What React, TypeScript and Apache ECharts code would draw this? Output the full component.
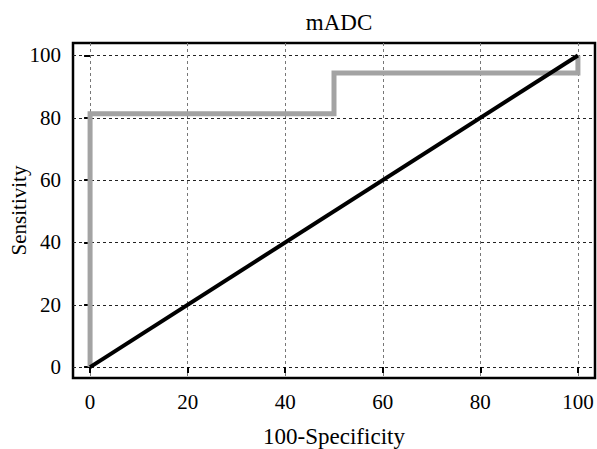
import React, { useEffect, useRef } from "react";
import * as echarts from "echarts";

const tickValues = [0, 20, 40, 60, 80, 100];
const rocCurve: [number, number][] = [
  [0, 0],
  [0, 81.3],
  [50, 81.3],
  [50, 94.4],
  [100, 94.4],
  [100, 100],
];
const diagonal: [number, number][] = [
  [0, 0],
  [100, 100],
];

const FONT = "Liberation Serif";

export default function App() {
  const ref = useRef<HTMLDivElement>(null);
  useEffect(() => {
    if (!ref.current) return;
    const chart = echarts.init(ref.current, undefined, { renderer: "svg" });
    chart.setOption({
      animation: false,
      backgroundColor: "#ffffff",
      title: {
        text: "mADC",
        left: 334,
        textAlign: "center",
        top: 6,
        textStyle: { fontFamily: FONT, fontSize: 23, fontWeight: "normal", color: "#000" },
      },
      grid: {
        left: 73,
        right: 2,
        top: 43,
        bottom: 71,
        containLabel: false,
        outerBoundsMode: "none",
        show: true,
        borderColor: "#000",
        borderWidth: 2.5,
        backgroundColor: "transparent",
      },
      xAxis: {
        type: "value",
        min: -3.5,
        max: 103.5,
        name: "100-Specificity",
        nameLocation: "middle",
        nameMoveOverlap: false,
        nameGap: 47,
        nameTextStyle: { fontFamily: FONT, fontSize: 23, color: "#000" },
        axisLine: { show: false },
        axisTick: {
          show: true,
          inside: false,
          length: 6,
          customValues: tickValues,
          lineStyle: { color: "#000", width: 2 },
        },
        axisLabel: {
          customValues: tickValues,
          fontFamily: FONT,
          fontSize: 21,
          color: "#000",
          margin: 13,
        },
        splitLine: {
          show: true,
          lineStyle: { color: "#777", type: [3, 3], width: 1 },
        },
      },
      yAxis: {
        type: "value",
        min: -3.5,
        max: 104,
        name: "Sensitivity",
        nameLocation: "middle",
        nameMoveOverlap: false,
        nameGap: 44,
        nameTextStyle: { fontFamily: FONT, fontSize: 21, color: "#000" },
        axisLine: { show: false },
        axisTick: {
          show: true,
          inside: false,
          length: 6,
          customValues: tickValues,
          lineStyle: { color: "#000", width: 2 },
        },
        axisLabel: {
          customValues: tickValues,
          fontFamily: FONT,
          fontSize: 21,
          color: "#000",
          margin: 12,
        },
        splitLine: {
          show: true,
          lineStyle: { color: "#222", type: [3, 3], width: 1 },
        },
      },
      series: [
        {
          type: "line",
          data: rocCurve,
          showSymbol: false,
          symbol: "none",
          lineStyle: { color: "#a3a3a3", width: 5, join: "miter", cap: "butt" },
          z: 2,
        },
        {
          type: "line",
          data: diagonal,
          showSymbol: false,
          symbol: "none",
          lineStyle: { color: "#000", width: 4 },
          z: 3,
        },
      ],
    });
    return () => chart.dispose();
  }, []);
  return <div ref={ref} style={{ width: 597, height: 449, position: "absolute", left: 0, top: 0 }} />;
}
